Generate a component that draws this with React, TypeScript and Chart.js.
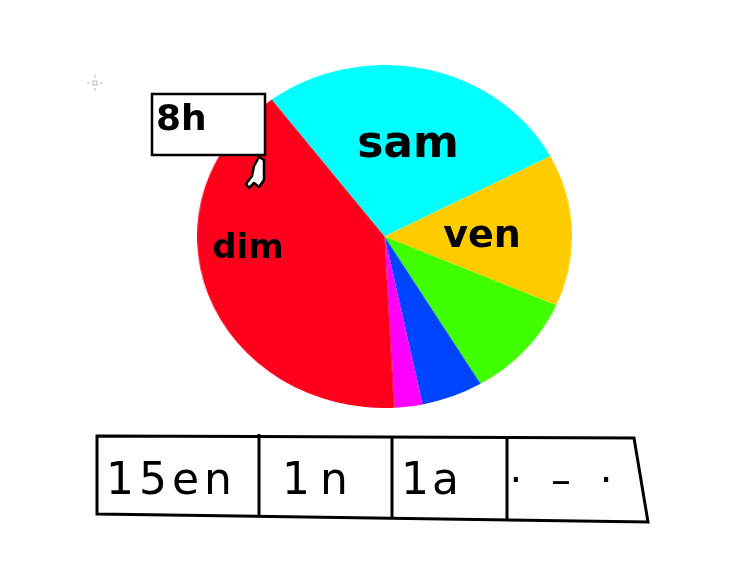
import React, { useEffect, useRef } from "react";
import { Chart, registerables } from "chart.js";

Chart.register(...registerables);

const sliceLabels = ["sam", "ven", "", "", "", "dim"];
const sliceValues = [99.1, 51.5, 35.6, 19.1, 8.6, 146.1];
const sliceColors = ["#00FFFF", "#FFCC00", "#40FF00", "#0044FF", "#FF00FF", "#FF001C"];
const tableCells = ["15en", "1n", "1a", "· – ·"];
const noteText = "8h";

const PIE_W = 375;
const PIE_H = 343;

export default function App() {
  const ref = useRef<HTMLCanvasElement | null>(null);
  useEffect(() => {
    if (!ref.current) return;
    const chart = new Chart(ref.current, {
      type: "pie",
      data: {
        labels: sliceLabels,
        datasets: [
          {
            data: sliceValues,
            backgroundColor: sliceColors,
            borderWidth: 0,
            hoverOffset: 0,
          },
        ],
      },
      options: {
        responsive: false,
        animation: false,
        rotation: -37,
        layout: { padding: 0 },
        plugins: { legend: { display: false }, tooltip: { enabled: false } },
      },
    });
    return () => chart.destroy();
  }, []);

  const font = "'DejaVu Sans', sans-serif";
  return (
    <div style={{ position: "absolute", left: 0, top: 0, width: 735, height: 575, background: "#fff", overflow: "hidden" }}>
      <div
        style={{
          position: "absolute",
          left: 197,
          top: 65,
          width: PIE_H,
          height: PIE_H,
          transform: `scaleX(${PIE_W / PIE_H})`,
          transformOrigin: "0 0",
        }}
      >
        <canvas ref={ref} width={PIE_H} height={PIE_H} />
      </div>
      <svg width={735} height={575} style={{ position: "absolute", left: 0, top: 0 }}>
        {/* crosshair */}
        <g stroke="#bbb" strokeWidth={1} fill="none">
          <rect x={93} y={81} width={4} height={4} />
          <line x1={95} y1={75} x2={95} y2={78} />
          <line x1={95} y1={88} x2={95} y2={91} />
          <line x1={87} y1={83} x2={90} y2={83} />
          <line x1={100} y1={83} x2={103} y2={83} />
        </g>
        {/* slice labels */}
        <text x={408} y={157} fontFamily={font} fontSize={44} fontWeight="bold" textAnchor="middle" fill="#000">{sliceLabels[0]}</text>
        <text x={482} y={247} fontFamily={font} fontSize={38} fontWeight="bold" textAnchor="middle" fill="#000">{sliceLabels[1]}</text>
        <text x={248} y={258} fontFamily={font} fontSize={34} fontWeight="bold" textAnchor="middle" fill="#000">{sliceLabels[5]}</text>
        {/* note box */}
        <rect x={152} y={94} width={113} height={61} fill="#fff" stroke="#000" strokeWidth={2.5} />
        <text x={156} y={130} fontFamily={font} fontSize={36} fontWeight="bold" fill="#000">{noteText}</text>
        {/* pointer */}
        <path
          d="M259 157 L264 160 L264 180 L259 187 L254 183 L249 188 L246 184 L252 176 L254 166 Z"
          fill="#fff"
          stroke="#000"
          strokeWidth={2.5}
          strokeLinejoin="round"
        />
        {/* table */}
        <polygon points="97,436 634,438 648,522 97,514" fill="#fff" stroke="#000" strokeWidth={3} />
        <line x1={259} y1={434} x2={259} y2={516} stroke="#000" strokeWidth={3} />
        <line x1={392} y1={438} x2={392} y2={518} stroke="#000" strokeWidth={3} />
        <line x1={507} y1={438} x2={507} y2={519} stroke="#000" strokeWidth={3} />
        <text x={106} y={494} fontFamily={font} fontSize={44} letterSpacing={5} fill="#000">{tableCells[0]}</text>
        <text x={282} y={494} fontFamily={font} fontSize={44} letterSpacing={10} fill="#000">{tableCells[1]}</text>
        <text x={401} y={494} fontFamily={font} fontSize={44} letterSpacing={3} fill="#000">{tableCells[2]}</text>
        <text x={565} y={494} fontFamily={font} fontSize={40} letterSpacing={8} textAnchor="middle" fill="#000">{tableCells[3]}</text>
      </svg>
    </div>
  );
}
